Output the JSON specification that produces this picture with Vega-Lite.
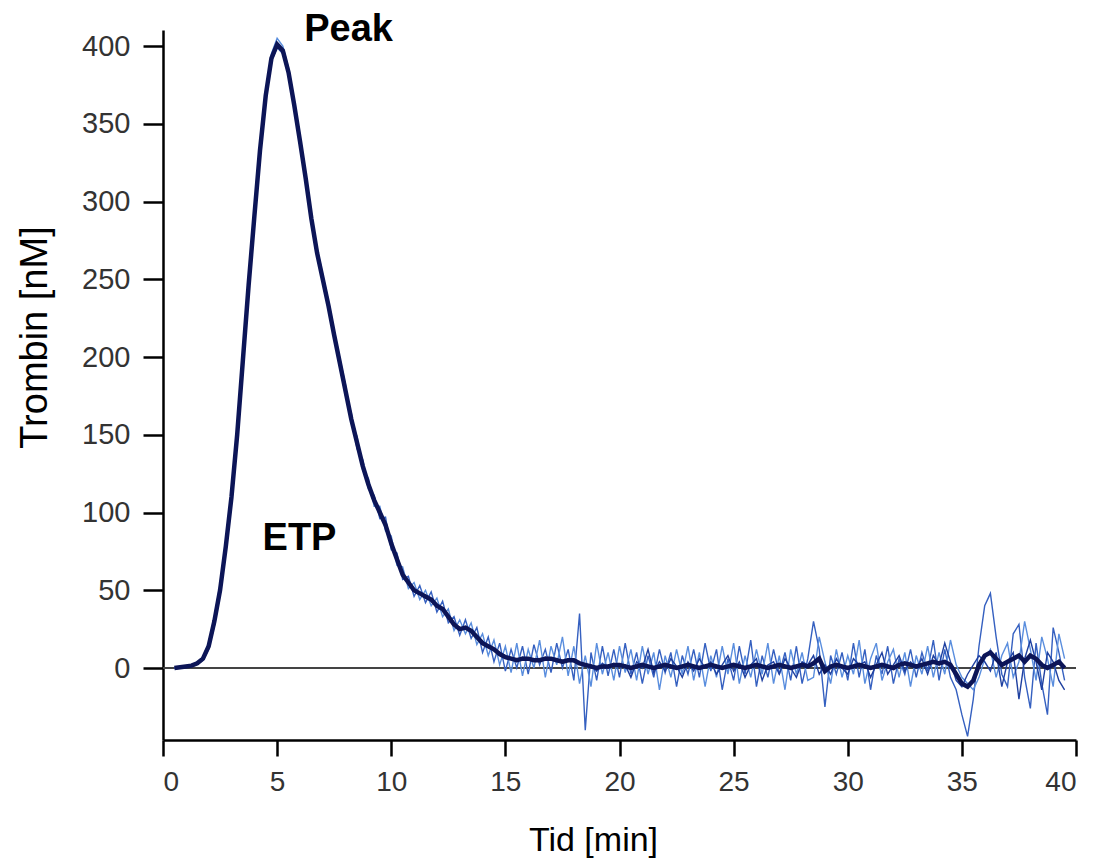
{
  "$schema": "https://vega.github.io/schema/vega-lite/v6.json",
  "autosize": "none",
  "padding": {"left": 163, "top": 30, "right": 19, "bottom": 119},
  "width": 913,
  "height": 710,
  "background": "white",
  "config": {"view": {"stroke": null}, "font": "Liberation Sans"},
  "datasets": {
    "curve": [
      {"t":0.5,"m":0,"a":0,"b":0,"c":0},
      {"t":0.75,"m":0.5,"a":0,"b":1,"c":0.5},
      {"t":1.0,"m":1,"a":1,"b":1.5,"c":0.5},
      {"t":1.25,"m":1.5,"a":1,"b":2,"c":1.5},
      {"t":1.5,"m":3,"a":2.5,"b":3.5,"c":3},
      {"t":1.75,"m":6,"a":5,"b":7,"c":6},
      {"t":2.0,"m":14,"a":12,"b":16,"c":14},
      {"t":2.25,"m":30,"a":27,"b":33,"c":30},
      {"t":2.5,"m":50,"a":47,"b":54,"c":50},
      {"t":2.75,"m":78,"a":75,"b":82,"c":78},
      {"t":3.0,"m":110,"a":106,"b":114,"c":110},
      {"t":3.25,"m":150,"a":146,"b":154,"c":150},
      {"t":3.5,"m":198,"a":194,"b":202,"c":197},
      {"t":3.75,"m":246,"a":242,"b":250,"c":246},
      {"t":4.0,"m":290,"a":286,"b":294,"c":290},
      {"t":4.25,"m":333,"a":329,"b":337,"c":333},
      {"t":4.5,"m":368,"a":365,"b":371,"c":368},
      {"t":4.75,"m":392,"a":390,"b":395,"c":392},
      {"t":5.0,"m":401,"a":399,"b":405,"c":400},
      {"t":5.25,"m":397,"a":395,"b":400,"c":397},
      {"t":5.5,"m":383,"a":381,"b":386,"c":383},
      {"t":5.75,"m":362,"a":360,"b":365,"c":362},
      {"t":6.0,"m":339,"a":337,"b":342,"c":339},
      {"t":6.25,"m":315,"a":313,"b":318,"c":315},
      {"t":6.5,"m":289,"a":287,"b":292,"c":290},
      {"t":6.75,"m":267,"a":265,"b":270,"c":268},
      {"t":7.0,"m":250,"a":248,"b":253,"c":250},
      {"t":7.25,"m":233,"a":231,"b":236,"c":233},
      {"t":7.5,"m":214,"a":212,"b":217,"c":214},
      {"t":7.75,"m":196,"a":193,"b":199,"c":196},
      {"t":8.0,"m":178,"a":175,"b":182,"c":178},
      {"t":8.25,"m":160,"a":164,"b":157,"c":161},
      {"t":8.5,"m":145,"a":141,"b":149,"c":146},
      {"t":8.75,"m":130,"a":134,"b":127,"c":131},
      {"t":9.0,"m":118,"a":115,"b":122,"c":118},
      {"t":9.25,"m":108,"a":111,"b":104,"c":108},
      {"t":9.5,"m":100,"a":96,"b":104,"c":100},
      {"t":9.75,"m":92,"a":97,"b":88,"c":93},
      {"t":10.0,"m":80,"a":76,"b":85,"c":80},
      {"t":10.25,"m":70,"a":74,"b":66,"c":71},
      {"t":10.5,"m":60,"a":57,"b":65,"c":61},
      {"t":10.75,"m":55,"a":59,"b":51,"c":56},
      {"t":11.0,"m":50,"a":46,"b":55,"c":50},
      {"t":11.25,"m":48,"a":53,"b":44,"c":49},
      {"t":11.5,"m":46,"a":42,"b":50,"c":46},
      {"t":11.75,"m":44,"a":49,"b":40,"c":44},
      {"t":12.0,"m":40,"a":36,"b":45,"c":40},
      {"t":12.25,"m":38,"a":43,"b":33,"c":38},
      {"t":12.5,"m":33,"a":29,"b":38,"c":34},
      {"t":12.75,"m":28,"a":33,"b":24,"c":29},
      {"t":13.0,"m":25,"a":21,"b":31,"c":26},
      {"t":13.25,"m":26,"a":31,"b":22,"c":26},
      {"t":13.5,"m":24,"a":19,"b":29,"c":23},
      {"t":13.75,"m":20,"a":26,"b":15,"c":21},
      {"t":14.0,"m":16,"a":10,"b":22,"c":17},
      {"t":14.25,"m":14,"a":20,"b":8,"c":14},
      {"t":14.5,"m":12,"a":4,"b":18,"c":12},
      {"t":14.75,"m":9,"a":16,"b":2,"c":10},
      {"t":15.0,"m":7,"a":-2,"b":14,"c":8},
      {"t":15.25,"m":6,"a":12,"b":-3,"c":6},
      {"t":15.5,"m":5,"a":0,"b":16,"c":4},
      {"t":15.75,"m":6,"a":14,"b":-5,"c":7},
      {"t":16.0,"m":6,"a":-4,"b":12,"c":6},
      {"t":16.25,"m":5,"a":15,"b":0,"c":5},
      {"t":16.5,"m":5,"a":2,"b":18,"c":4},
      {"t":16.75,"m":6,"a":12,"b":-6,"c":7},
      {"t":17.0,"m":6,"a":-3,"b":14,"c":5},
      {"t":17.25,"m":5,"a":16,"b":2,"c":6},
      {"t":17.5,"m":4,"a":0,"b":20,"c":3},
      {"t":17.75,"m":5,"a":12,"b":-5,"c":6},
      {"t":18.0,"m":5,"a":-8,"b":14,"c":4},
      {"t":18.25,"m":3,"a":35,"b":-10,"c":3},
      {"t":18.5,"m":2,"a":-40,"b":8,"c":1},
      {"t":18.75,"m":1,"a":10,"b":-12,"c":2},
      {"t":19.0,"m":0,"a":-8,"b":16,"c":-2},
      {"t":19.25,"m":1,"a":14,"b":-4,"c":3},
      {"t":19.5,"m":1,"a":-5,"b":10,"c":0},
      {"t":19.75,"m":2,"a":12,"b":-8,"c":3},
      {"t":20.0,"m":2,"a":-6,"b":14,"c":1},
      {"t":20.25,"m":1,"a":16,"b":-3,"c":2},
      {"t":20.5,"m":0,"a":-4,"b":12,"c":-6},
      {"t":20.75,"m":1,"a":10,"b":-8,"c":4},
      {"t":21.0,"m":2,"a":-10,"b":14,"c":0},
      {"t":21.25,"m":1,"a":8,"b":-4,"c":12},
      {"t":21.5,"m":0,"a":-6,"b":10,"c":-3},
      {"t":21.75,"m":1,"a":12,"b":-14,"c":4},
      {"t":22.0,"m":2,"a":-3,"b":8,"c":-2},
      {"t":22.25,"m":1,"a":10,"b":-6,"c":6},
      {"t":22.5,"m":0,"a":-12,"b":12,"c":1},
      {"t":22.75,"m":1,"a":8,"b":-4,"c":-6},
      {"t":23.0,"m":2,"a":-4,"b":14,"c":4},
      {"t":23.25,"m":1,"a":12,"b":-8,"c":-2},
      {"t":23.5,"m":0,"a":-6,"b":10,"c":6},
      {"t":23.75,"m":1,"a":16,"b":-12,"c":0},
      {"t":24.0,"m":2,"a":-2,"b":8,"c":4},
      {"t":24.25,"m":1,"a":12,"b":-6,"c":-4},
      {"t":24.5,"m":0,"a":-14,"b":14,"c":2},
      {"t":24.75,"m":1,"a":6,"b":-4,"c":8},
      {"t":25.0,"m":2,"a":-8,"b":16,"c":-2},
      {"t":25.25,"m":1,"a":14,"b":-10,"c":4},
      {"t":25.5,"m":0,"a":-4,"b":8,"c":-6},
      {"t":25.75,"m":1,"a":18,"b":-6,"c":2},
      {"t":26.0,"m":2,"a":-12,"b":12,"c":6},
      {"t":26.25,"m":1,"a":8,"b":-4,"c":-8},
      {"t":26.5,"m":0,"a":-6,"b":16,"c":2},
      {"t":26.75,"m":1,"a":12,"b":-10,"c":4},
      {"t":27.0,"m":2,"a":-4,"b":8,"c":-4},
      {"t":27.25,"m":1,"a":10,"b":-14,"c":6},
      {"t":27.5,"m":0,"a":-8,"b":12,"c":0},
      {"t":27.75,"m":1,"a":14,"b":-4,"c":-6},
      {"t":28.0,"m":2,"a":-10,"b":10,"c":4},
      {"t":28.25,"m":1,"a":6,"b":-8,"c":2},
      {"t":28.5,"m":3,"a":30,"b":-6,"c":8},
      {"t":28.75,"m":6,"a":12,"b":20,"c":-4},
      {"t":29.0,"m":-2,"a":-25,"b":4,"c":2},
      {"t":29.25,"m":1,"a":8,"b":-10,"c":-4},
      {"t":29.5,"m":2,"a":-4,"b":12,"c":6},
      {"t":29.75,"m":1,"a":10,"b":-6,"c":0},
      {"t":30.0,"m":0,"a":-8,"b":8,"c":-4},
      {"t":30.25,"m":1,"a":16,"b":-4,"c":6},
      {"t":30.5,"m":2,"a":-6,"b":18,"c":2},
      {"t":30.75,"m":1,"a":12,"b":-10,"c":4},
      {"t":31.0,"m":0,"a":-14,"b":6,"c":-6},
      {"t":31.25,"m":1,"a":8,"b":16,"c":2},
      {"t":31.5,"m":2,"a":-4,"b":-8,"c":10},
      {"t":31.75,"m":1,"a":14,"b":4,"c":-4},
      {"t":32.0,"m":0,"a":-10,"b":12,"c":2},
      {"t":32.25,"m":2,"a":6,"b":-6,"c":8},
      {"t":32.5,"m":3,"a":-4,"b":10,"c":-2},
      {"t":32.75,"m":2,"a":12,"b":-12,"c":4},
      {"t":33.0,"m":1,"a":-6,"b":8,"c":0},
      {"t":33.25,"m":2,"a":10,"b":-4,"c":6},
      {"t":33.5,"m":3,"a":-2,"b":14,"c":-4},
      {"t":33.75,"m":4,"a":18,"b":-6,"c":8},
      {"t":34.0,"m":3,"a":-8,"b":10,"c":2},
      {"t":34.25,"m":4,"a":12,"b":-4,"c":16},
      {"t":34.5,"m":2,"a":-6,"b":18,"c":4},
      {"t":34.75,"m":-4,"a":-14,"b":2,"c":-8},
      {"t":35.0,"m":-10,"a":-30,"b":-6,"c":-12},
      {"t":35.25,"m":-12,"a":-44,"b":-10,"c":-4},
      {"t":35.5,"m":-8,"a":-20,"b":-14,"c":2},
      {"t":35.75,"m":2,"a":14,"b":-6,"c":8},
      {"t":36.0,"m":8,"a":40,"b":6,"c":4},
      {"t":36.25,"m":10,"a":48,"b":12,"c":-2},
      {"t":36.5,"m":6,"a":20,"b":-6,"c":10},
      {"t":36.75,"m":2,"a":-4,"b":8,"c":-12},
      {"t":37.0,"m":4,"a":-12,"b":16,"c":4},
      {"t":37.25,"m":6,"a":22,"b":-6,"c":10},
      {"t":37.5,"m":8,"a":28,"b":4,"c":-20},
      {"t":37.75,"m":4,"a":-6,"b":30,"c":6},
      {"t":38.0,"m":8,"a":-26,"b":12,"c":18},
      {"t":38.25,"m":6,"a":16,"b":-8,"c":4},
      {"t":38.5,"m":2,"a":-10,"b":20,"c":-14},
      {"t":38.75,"m":0,"a":-30,"b":6,"c":10},
      {"t":39.0,"m":2,"a":26,"b":-12,"c":4},
      {"t":39.25,"m":4,"a":10,"b":22,"c":-8},
      {"t":39.5,"m":0,"a":-8,"b":6,"c":-14}
    ],
    "labels": [
      {"t":8.13,"v":403,"txt":"Peak"},
      {"t":5.98,"v":76,"txt":"ETP"}
    ]
  },
  "layer": [
    {
      "data": {"values": [{"z": 0}]},
      "mark": {"type": "rule", "color": "#444444", "strokeWidth": 2},
      "encoding": {
        "y": {"field": "z", "type": "quantitative", "scale": {"domain": [-46.3, 410.3], "nice": false, "zero": false}}
      }
    },
    {
      "data": {"name": "curve"},
      "transform": [{"fold": ["a", "b", "c"], "as": ["rep", "val"]}],
      "mark": {"type": "line", "strokeWidth": 1.4, "clip": true},
      "encoding": {
        "x": {"field": "t", "type": "quantitative"},
        "y": {"field": "val", "type": "quantitative"},
        "color": {"field": "rep", "type": "nominal", "legend": null, "scale": {"range": ["#3560c0", "#5a8ede", "#1f40a0"]}}
      }
    },
    {
      "data": {"name": "curve"},
      "mark": {"type": "line", "strokeWidth": 4.5, "color": "#0c1557", "clip": true},
      "encoding": {
        "x": {"field": "t", "type": "quantitative"},
        "y": {"field": "m", "type": "quantitative"}
      }
    },
    {
      "data": {"name": "labels"},
      "mark": {"type": "text", "fontSize": 38, "fontWeight": "bold", "font": "Liberation Sans", "color": "#000000", "align": "center", "baseline": "alphabetic"},
      "encoding": {
        "x": {"field": "t", "type": "quantitative"},
        "y": {"field": "v", "type": "quantitative"},
        "text": {"field": "txt"}
      }
    }
  ],
  "resolve": {"scale": {"color": "independent"}},
  "encoding": {
    "x": {
      "type": "quantitative",
      "scale": {"domain": [0, 40], "nice": false, "zero": false},
      "axis": {
        "title": "Tid [min]",
        "values": [0,5,10,15,20,25,30,35,40],
        "grid": false,
        "domainColor": "#000000", "domainWidth": 2.5,
        "tickColor": "#000000", "tickWidth": 2.5, "tickSize": 16,
        "labelFontSize": 28, "labelColor": "#333333", "labelPadding": 12, "labelFont": "Liberation Sans",
        "titleFontSize": 34, "titleFontWeight": "normal", "titleColor": "#000000", "titleFont": "Liberation Sans",
        "titleX": 430, "titleY": 110, "titleBaseline": "alphabetic", "titleAlign": "center"
      }
    },
    "y": {
      "type": "quantitative",
      "scale": {"domain": [-46.3, 410.3], "nice": false, "zero": false},
      "axis": {
        "title": "Trombin [nM]",
        "values": [0,50,100,150,200,250,300,350,400],
        "grid": false,
        "domainColor": "#000000", "domainWidth": 2.5,
        "tickColor": "#000000", "tickWidth": 2.5, "tickSize": 20,
        "labelFontSize": 29, "labelColor": "#333333", "labelPadding": 13, "labelFont": "Liberation Sans",
        "titleFontSize": 38, "titleFontWeight": "normal", "titleColor": "#000000", "titleFont": "Liberation Sans",
        "titleX": -128, "titleY": 307, "titleBaseline": "middle", "titleAlign": "center", "titleAngle": -90
      }
    }
  }
}
